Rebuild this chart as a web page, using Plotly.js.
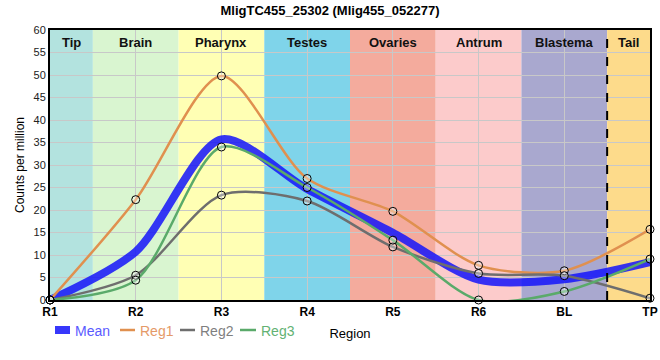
<!DOCTYPE html>
<html><head><meta charset="utf-8">
<script src="https://cdn.plot.ly/plotly-3.0.1.min.js"></script>
<style>body{margin:0;padding:0;}#chart{width:660px;height:360px;}</style>
</head><body><div id="chart"></div>
<script>
const regions = ["R1","R2","R3","R4","R5","R6","BL","TP"];
const reg1 = [0, 22.3, 49.8, 27.0, 19.7, 7.7, 6.5, 15.7];
const reg2 = [0, 5.5, 23.3, 22.0, 11.8, 5.9, 5.4, 0.4];
const reg3 = [0, 4.4, 34.0, 25.0, 13.3, 0, 1.9, 9.1];
const mean = reg1.map((v,i)=>(v+reg2[i]+reg3[i])/3);
const bandNames = ["Tip","Brain","Pharynx","Testes","Ovaries","Antrum","Blastema","Tail"];
const bandColors = ["#b3e3df","#d9f5d0","#ffffb4","#7fd4ea","#f4ab9d","#fccbcb","#a9a8cf","#fddb8b"];
const bandStart = [-0.5,0.5,1.5,2.5,3.5,4.5,5.5,6.5];
const bandEnd = [0.5,1.5,2.5,3.5,4.5,5.5,6.5,7.5];
const seriesNames = ["Mean","Reg1","Reg2","Reg3"];
const seriesColors = ["rgba(20,20,250,0.85)","#e0904f","#6e6e6e","#5aaa6a"];
const legendTextColors = ["#5a5aff","#e59a68","#7f7f7f","#63b273"];
const xi = regions.map((r,i)=>i);

const shapes = [];
const annotations = [];
bandNames.forEach((n,i)=>{
  shapes.push({type:'rect',xref:'x',yref:'paper',x0:bandStart[i],x1:bandEnd[i],y0:0,y1:1,fillcolor:bandColors[i],line:{width:0},layer:'below'});
  const x0=Math.max(bandStart[i],0), x1=Math.min(bandEnd[i],7);
  annotations.push({x:(x0+x1)/2,y:57.3,xref:'x',yref:'y',text:'<b>'+n+'</b>',showarrow:false,font:{size:13,color:'#111',family:'Liberation Sans, Arial'}});
});
shapes.push({type:'line',xref:'x',yref:'paper',x0:6.5,x1:6.5,y0:0,y1:1,line:{color:'#000',width:2,dash:'dash'}});

// manual legend (pixel -> paper: x=(px-50)/600, y=(300-py)/270)
const px = p=>(p-50)/600, py = p=>(300-p)/270;
const legSym = [[55,70],[120,135],[180,195],[240,256]];
const legW = [8,2.5,2.5,2.5];
seriesNames.forEach((n,i)=>{
  shapes.push({type:'line',xref:'paper',yref:'paper',x0:px(legSym[i][0]),x1:px(legSym[i][1]),y0:py(330),y1:py(330),line:{color:seriesColors[i],width:legW[i]}});
  annotations.push({xref:'paper',yref:'paper',x:px(legSym[i][1]+3),y:py(331),xanchor:'left',yanchor:'middle',text:n,showarrow:false,font:{size:14,color:legendTextColors[i],family:'Liberation Sans, Arial'}});
});

const mkFill = {symbol:'circle',size:8,color:'rgba(255,255,255,0.35)',line:{width:1,color:'#000'}};
function tr(y,i,width){
  return {x:xi,y:y,type:'scatter',mode:'lines',name:seriesNames[i],
    line:{color:seriesColors[i],width:width,shape:'spline',smoothing:0.8},cliponaxis:false,showlegend:false};
}
const data = [
  tr(mean,0,8),
  tr(reg1,1,2.5),
  tr(reg2,2,2.5),
  tr(reg3,3,2.5)
];
data.push({x:xi.concat(xi,xi),y:reg1.concat(reg2,reg3),type:'scatter',mode:'markers',marker:mkFill,showlegend:false,hoverinfo:'skip',cliponaxis:false});

const layout = {
  width:660,height:360,
  margin:{l:50,r:10,t:30,b:60},
  paper_bgcolor:'#fff',plot_bgcolor:'#fff',
  font:{family:'Liberation Sans, Arial',size:11,color:'#000'},
  title:{text:'<b>MligTC455_25302 (Mlig455_052277)</b>',x:0.5,xanchor:'center',y:0.985,yanchor:'top',font:{size:13,color:'#000'}},
  xaxis:{range:[0,7],tickvals:xi,ticktext:regions.map(r=>'<b>'+r+'</b>'),tickfont:{size:12,color:'#000'},
    showgrid:true,gridcolor:'#c8c8c8',gridwidth:1,zeroline:false,showline:true,linecolor:'#000',linewidth:2,mirror:true,
    ticks:'',layer:'above traces',
    title:{text:'Region',font:{size:13,color:'#000'},standoff:10}},
  yaxis:{range:[0,60],dtick:5,tickfont:{size:11,color:'#222'},showgrid:true,gridcolor:'#c8c8c8',gridwidth:1,
    zeroline:false,showline:true,linecolor:'#000',linewidth:2,mirror:true,ticks:'',
    title:{text:'Counts per million',font:{size:12,color:'#000'},standoff:6}},
  shapes:shapes,annotations:annotations,showlegend:false
};
Plotly.newPlot('chart',data,layout,{displayModeBar:false,staticPlot:true});
</script></body></html>
